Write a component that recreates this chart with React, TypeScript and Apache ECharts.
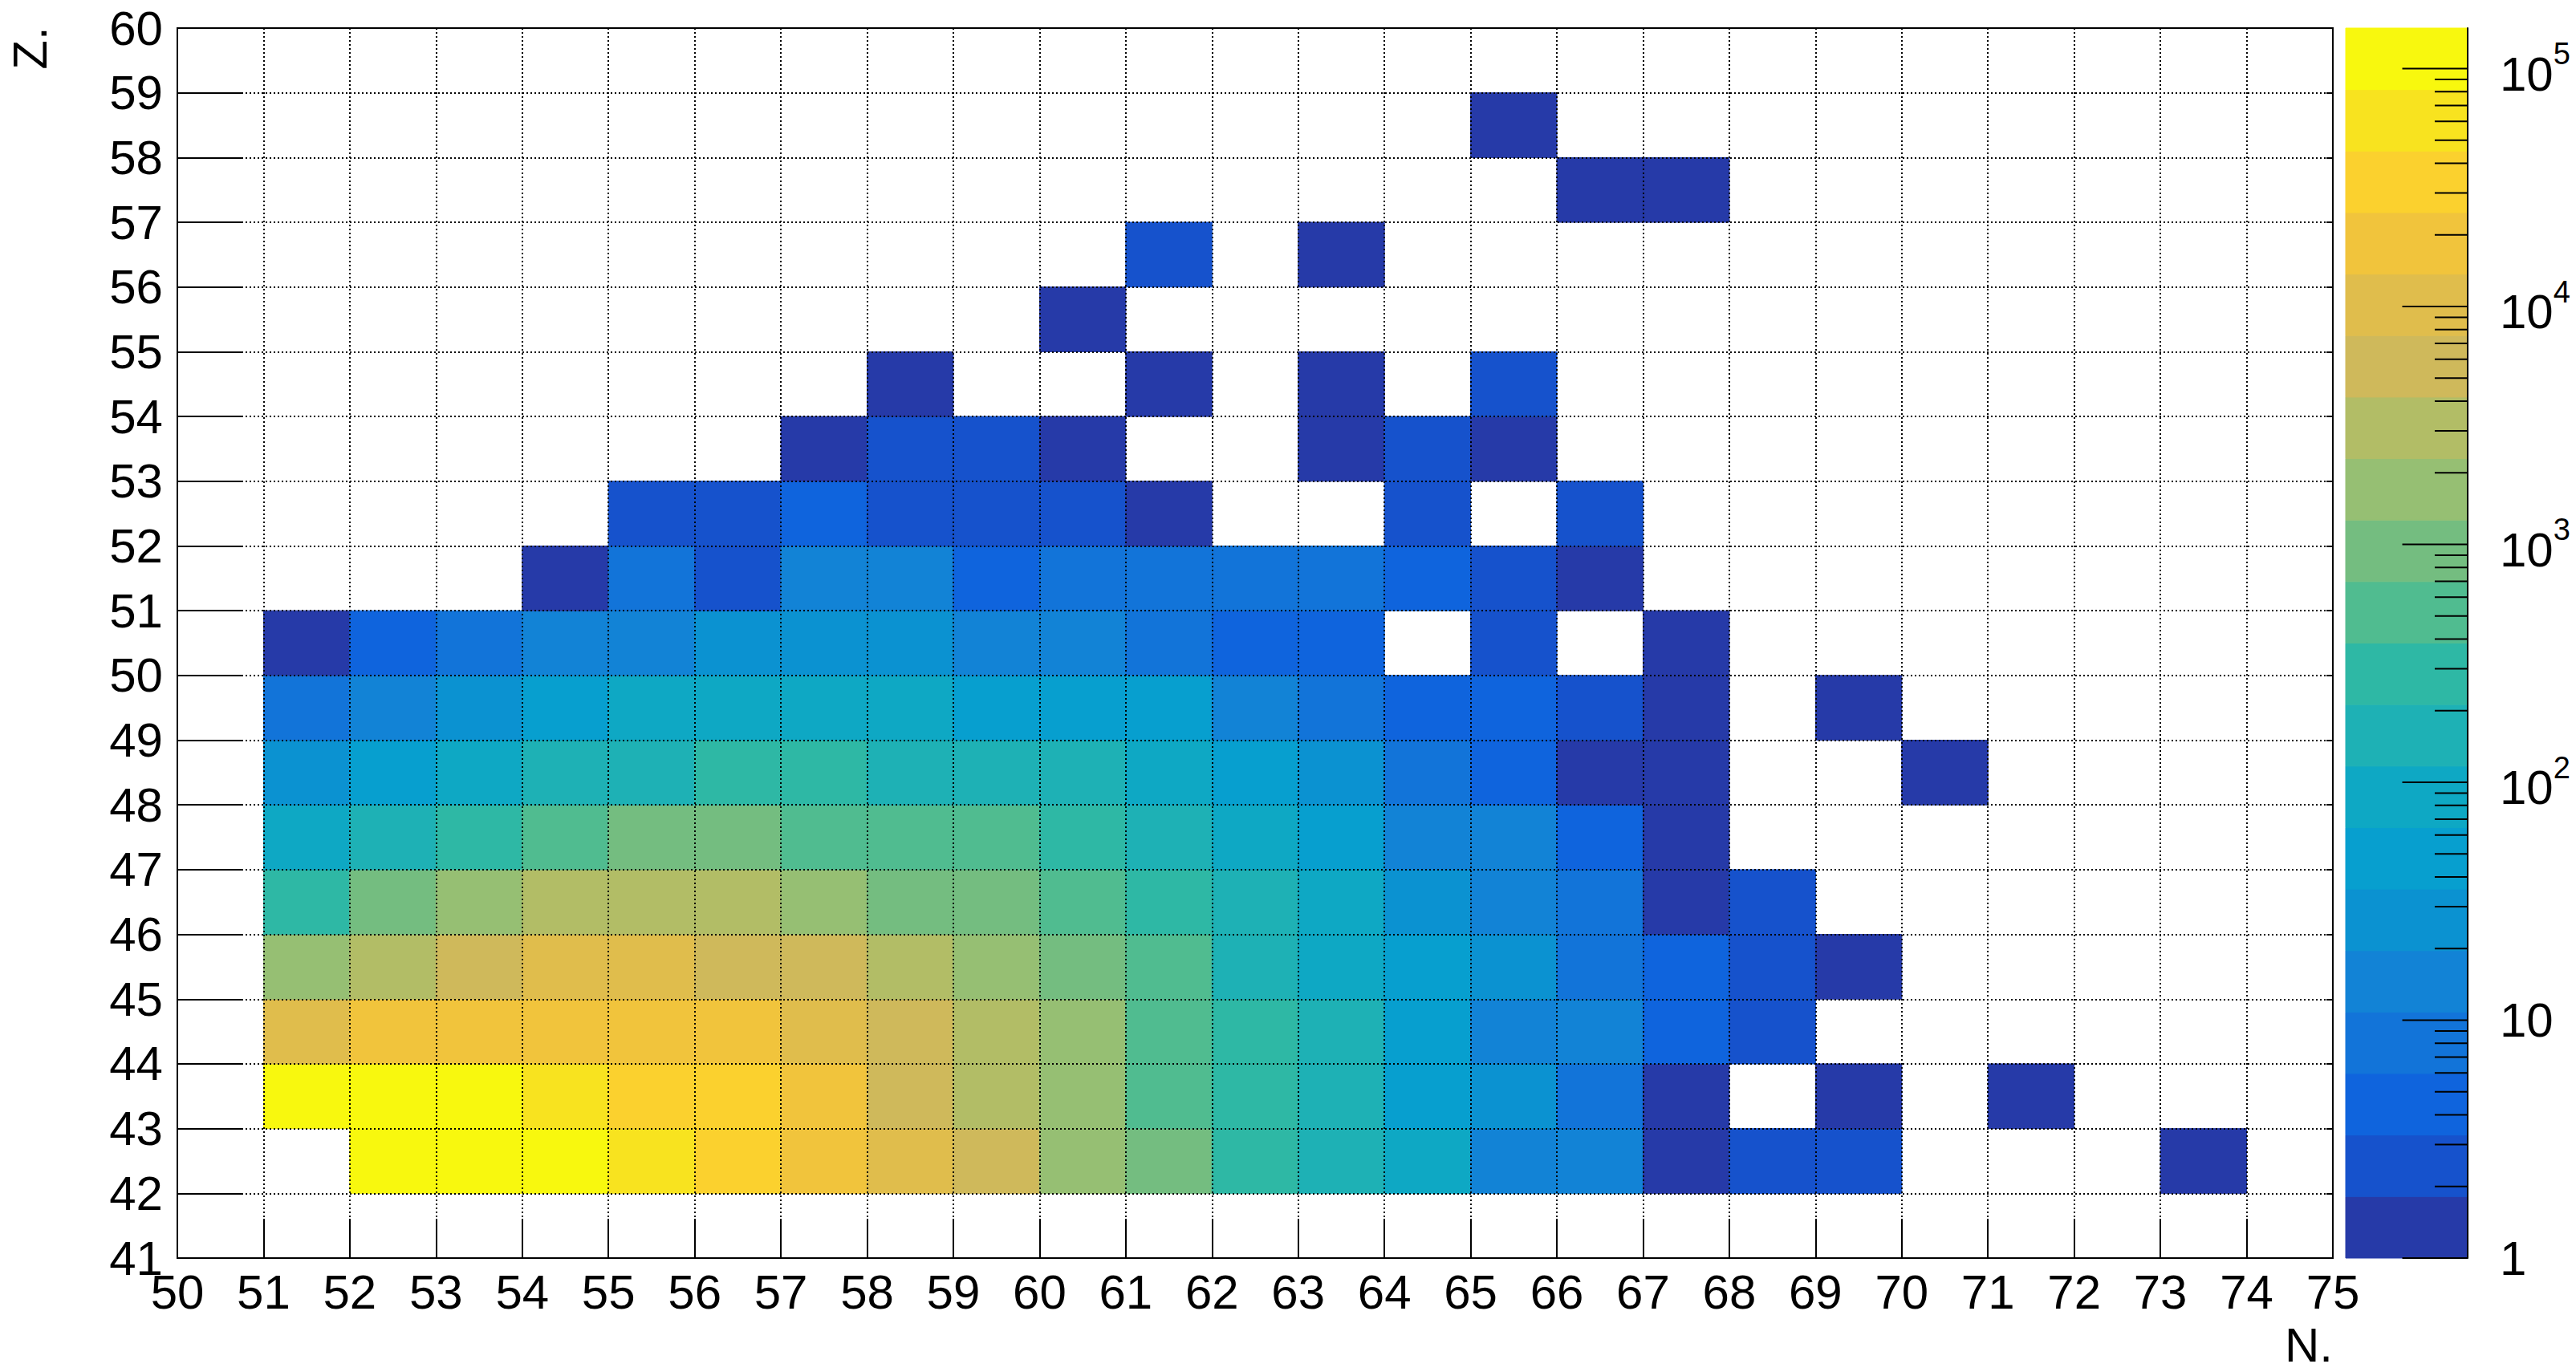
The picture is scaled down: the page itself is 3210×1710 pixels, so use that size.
import React, { useEffect, useRef } from "react";
import * as echarts from "echarts";

const FONT = "'Liberation Sans', Arial, Helvetica, sans-serif";

// axes
const nAxisMin = 50;
const nAxisMax = 75;
const zAxisMin = 41;
const zAxisMax = 60;
const firstN = 51;

// colour scale (log, 20 contours like ROOT kBird)
const zScaleMax = 148000;
const nContours = 20;
const birdPalette = [
  "#263aa8", "#1652cc", "#0f64dd", "#1274d9", "#1283d6",
  "#0b92d1", "#079fcf", "#0ea8c4", "#1eb1b5", "#2eb8a5",
  "#50bc90", "#74bd80", "#96bf73", "#b2bd66", "#cfb95b",
  "#e0bd4c", "#f1c43c", "#fbd12e", "#f8e31f", "#f8f80e",
];
const colorBarDecades = [0, 1, 2, 3, 4, 5];

// counts per Z row; entries are N = 51, 52, 53, ...
const z42 = [0, 118000, 125000, 96000, 62000, 36000, 19000, 10500, 5200, 1600, 900, 300, 170, 90, 14, 13, 1, 2, 2, 0, 0, 0, 1];
const z43 = [112000, 131000, 104000, 70000, 40000, 31000, 17000, 6400, 3300, 2000, 560, 260, 150, 52, 28, 8, 1, 0, 1, 0, 1];
const z44 = [12000, 21000, 20000, 18500, 17500, 16500, 9800, 5600, 2900, 1500, 450, 240, 140, 45, 16, 12, 4, 2];
const z45 = [1900, 3400, 6200, 8800, 8200, 6800, 5900, 3200, 1500, 950, 430, 190, 95, 40, 24, 7, 4, 2, 1];
const z46 = [330, 800, 1600, 2700, 2900, 2600, 1900, 1000, 850, 480, 250, 150, 75, 22, 12, 7, 1, 2];
const z47 = [100, 180, 320, 560, 760, 720, 520, 600, 490, 290, 200, 110, 50, 15, 12, 4, 1];
const z48 = [30, 56, 105, 170, 190, 240, 230, 200, 180, 150, 85, 40, 21, 7, 4, 1, 1, 0, 0, 1];
const z49 = [9, 18, 30, 58, 80, 95, 88, 70, 60, 54, 44, 13, 7, 5, 4, 2, 1, 0, 1];
const z50 = [1, 5, 8, 15, 16, 22, 25, 20, 17, 13, 9, 5, 4, 0, 2, 0, 1];
const z51 = [0, 0, 0, 1, 7, 3, 11, 12, 5, 8, 7, 9, 8, 4, 2, 1];
const z52 = [0, 0, 0, 0, 3, 2, 4, 3, 2, 3, 1, 0, 0, 2, 0, 2];
const z53 = [0, 0, 0, 0, 0, 0, 1, 2, 3, 1, 0, 0, 1, 2, 1];
const z54 = [0, 0, 0, 0, 0, 0, 0, 1, 0, 0, 1, 0, 1, 0, 2];
const z55 = [0, 0, 0, 0, 0, 0, 0, 0, 0, 1];
const z56 = [0, 0, 0, 0, 0, 0, 0, 0, 0, 0, 2, 0, 1];
const z57 = [0, 0, 0, 0, 0, 0, 0, 0, 0, 0, 0, 0, 0, 0, 0, 1, 1];
const z58 = [0, 0, 0, 0, 0, 0, 0, 0, 0, 0, 0, 0, 0, 0, 1];

const rows: [number, number[]][] = [
  [42, z42], [43, z43], [44, z44], [45, z45], [46, z46], [47, z47], [48, z48],
  [49, z49], [50, z50], [51, z51], [52, z52], [53, z53], [54, z54], [55, z55],
  [56, z56], [57, z57], [58, z58],
];

const logTop = Math.log10(zScaleMax);
const step = logTop / nContours;

function colorOf(v: number): string {
  let k = Math.floor(Math.log10(v) / step);
  if (k < 0) k = 0;
  if (k > nContours - 1) k = nContours - 1;
  return birdPalette[k];
}

function buildOption() {
  const cells: number[][] = [];
  rows.forEach(([z, vals]) => {
    vals.forEach((v, i) => {
      if (v > 0) cells.push([firstN + i, z, v]);
    });
  });

  const bands = birdPalette.map((_, k) => [0, k * step, (k + 1) * step, k]);
  const ticks: number[][] = [];
  for (let d = 0; d <= 5; d++) {
    for (let m = 1; m <= 9; m++) {
      const v = m * Math.pow(10, d);
      if (v <= zScaleMax) ticks.push([1, Math.log10(v), m === 1 ? 1 : 0]);
    }
  }

  const black = "#000";
  const labelStyle = { fontSize: 60, color: black, fontFamily: FONT };
  const gridLine = { show: true, lineStyle: { color: black, width: 2, type: [2, 3] } };

  return {
    animation: false,
    backgroundColor: "#fff",
    grid: [
      { left: 221, top: 35, width: 2686, height: 1533, show: true, borderColor: black, borderWidth: 2, backgroundColor: "transparent" },
      { left: 2923, top: 35, width: 152, height: 1533, show: false },
    ],
    xAxis: [
      {
        type: "value", gridIndex: 0, min: nAxisMin, max: nAxisMax, interval: 1, z: 10,
        axisLine: { show: true, onZero: false, lineStyle: { color: black, width: 2 } },
        axisTick: { show: true, inside: true, length: 49, lineStyle: { color: black, width: 2 } },
        axisLabel: { ...labelStyle, margin: 12 },
        splitLine: gridLine,
      },
      { type: "value", gridIndex: 1, min: 0, max: 1, show: false },
    ],
    yAxis: [
      {
        type: "value", gridIndex: 0, min: zAxisMin, max: zAxisMax, interval: 1, z: 10,
        axisLine: { show: true, onZero: false, lineStyle: { color: black, width: 2 } },
        axisTick: { show: true, inside: true, length: 80, lineStyle: { color: black, width: 2 } },
        axisLabel: { ...labelStyle, margin: 18 },
        splitLine: gridLine,
      },
      {
        type: "value", gridIndex: 1, min: 0, max: logTop, interval: 1, position: "right", z: 10,
        axisLine: { show: true, onZero: false, lineStyle: { color: black, width: 2 } },
        axisTick: { show: false },
        splitLine: { show: false },
        axisLabel: {
          ...labelStyle,
          margin: 40,
          showMaxLabel: false,
          formatter: (v: number) => {
            const d = Math.round(v);
            if (colorBarDecades.indexOf(d) < 0) return "";
            if (d === 0) return "1";
            if (d === 1) return "10";
            return "{b|10}{s|" + d + "}";
          },
          rich: {
            b: { fontSize: 60, fontFamily: FONT, color: black, lineHeight: 74, verticalAlign: "bottom" },
            s: { fontSize: 38, fontFamily: FONT, color: black, lineHeight: 38, verticalAlign: "top" },
          },
        },
      },
      {
        type: "value", gridIndex: 0, min: zAxisMin, max: zAxisMax, interval: 1, position: "right", z: 10,
        axisLine: { show: true, onZero: false, lineStyle: { color: black, width: 2 } },
        axisTick: { show: true, inside: true, length: 8, lineStyle: { color: black, width: 2 } },
        axisLabel: { show: false },
        splitLine: { show: false },
      },
    ],
    series: [
      {
        type: "custom",
        xAxisIndex: 0,
        yAxisIndex: 0,
        z: 2,
        data: cells,
        encode: { x: 0, y: 1 },
        renderItem: (params: any, api: any) => {
          const x = api.value(0);
          const y = api.value(1);
          const v = api.value(2);
          const p0 = api.coord([x, y + 1]);
          const p1 = api.coord([x + 1, y]);
          const c = colorOf(v);
          return {
            type: "rect",
            shape: { x: p0[0], y: p0[1], width: p1[0] - p0[0], height: p1[1] - p0[1] },
            style: { fill: c, stroke: c, lineWidth: 1 },
          };
        },
      },
      {
        type: "custom",
        xAxisIndex: 1,
        yAxisIndex: 1,
        z: 2,
        data: bands,
        encode: { x: 0, y: 1 },
        renderItem: (params: any, api: any) => {
          const lo = api.value(1);
          const hi = api.value(2);
          const k = api.value(3);
          const p0 = api.coord([0, hi]);
          const p1 = api.coord([1, lo]);
          const c = birdPalette[k];
          return {
            type: "rect",
            shape: { x: p0[0], y: p0[1], width: p1[0] - p0[0], height: p1[1] - p0[1] },
            style: { fill: c, stroke: c, lineWidth: 1 },
          };
        },
      },
      {
        type: "custom",
        xAxisIndex: 1,
        yAxisIndex: 1,
        z: 4,
        data: ticks,
        encode: { x: 0, y: 1 },
        renderItem: (params: any, api: any) => {
          const lv = api.value(1);
          const major = api.value(2) === 1;
          const p1 = api.coord([1, lv]);
          const p0 = api.coord([major ? 1 - 0.536 : 1 - 0.27, lv]);
          return {
            type: "line",
            shape: { x1: p0[0], y1: p0[1], x2: p1[0], y2: p1[1] },
            style: { stroke: black, lineWidth: 2 },
          };
        },
      },
    ],
    graphic: [
      {
        type: "text", x: 37, y: 60, rotation: Math.PI / 2,
        style: { text: "Z.", fontSize: 60, fontFamily: FONT, fill: black, align: "center", verticalAlign: "middle" },
      },
      {
        type: "text", x: 2907, y: 1646,
        style: { text: "N.", fontSize: 60, fontFamily: FONT, fill: black, align: "right", verticalAlign: "top" },
      },
    ],
  };
}

export default function App() {
  const ref = useRef<HTMLDivElement>(null);
  useEffect(() => {
    if (!ref.current) return;
    const chart = echarts.init(ref.current, null, { renderer: "svg" });
    chart.setOption(buildOption() as any);
    return () => chart.dispose();
  }, []);
  return (
    <div
      ref={ref}
      style={{ position: "fixed", left: 0, top: 0, width: 3210, height: 1710, background: "#fff" }}
    />
  );
}
